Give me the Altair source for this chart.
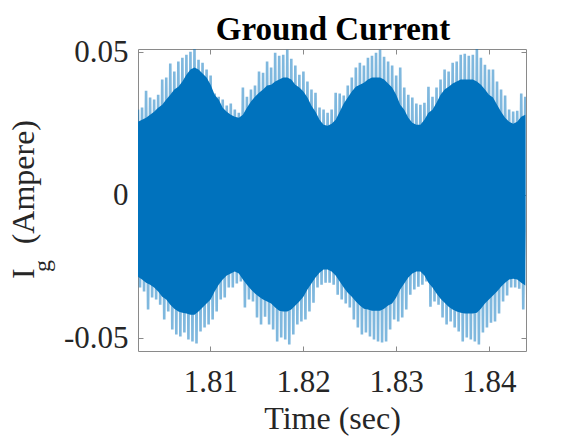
import altair as alt
import pandas as pd

# Sampling of the recorded ground current (s)
t_start = 1.8022
t_step = 0.0004346

# Positive / negative spike tips of the oscillation (A)
peak_hi = [
    0.0300, 0.0307, 0.0366, 0.0342, 0.0335, 0.0352, 0.0405, 0.0412, 0.0461, 0.0433,
    0.0468, 0.0481, 0.0492, 0.0502, 0.0513, 0.0474, 0.0464, 0.0440, 0.0419, 0.0356,
    0.0345, 0.0335, 0.0314, 0.0321, 0.0300, 0.0289, 0.0377, 0.0345, 0.0370, 0.0384,
    0.0433, 0.0429, 0.0468, 0.0447, 0.0499, 0.0488, 0.0492, 0.0509, 0.0478, 0.0454,
    0.0422, 0.0433, 0.0398, 0.0370, 0.0359, 0.0307, 0.0300, 0.0289, 0.0300, 0.0359,
    0.0356, 0.0349, 0.0384, 0.0412, 0.0447, 0.0464, 0.0454, 0.0481, 0.0488, 0.0499,
    0.0509, 0.0485, 0.0468, 0.0454, 0.0419, 0.0447, 0.0377, 0.0352, 0.0342, 0.0321,
    0.0317, 0.0324, 0.0380, 0.0345, 0.0377, 0.0405, 0.0440, 0.0433, 0.0464, 0.0468,
    0.0492, 0.0495, 0.0488, 0.0492, 0.0516, 0.0481, 0.0457, 0.0440, 0.0440, 0.0398,
    0.0370, 0.0349, 0.0300, 0.0293, 0.0296, 0.0356, 0.0345,
]
peak_lo = [
    -0.0322, -0.0336, -0.0399, -0.0357, -0.0364, -0.0382, -0.0434, -0.0406, -0.0469, -0.0486,
    -0.0493, -0.0479, -0.0504, -0.0511, -0.0518, -0.0476, -0.0462, -0.0451, -0.0434, -0.0406,
    -0.0364, -0.0357, -0.0322, -0.0322, -0.0308, -0.0301, -0.0392, -0.0364, -0.0371, -0.0427,
    -0.0451, -0.0424, -0.0451, -0.0469, -0.0511, -0.0497, -0.0504, -0.0521, -0.0486, -0.0451,
    -0.0441, -0.0434, -0.0406, -0.0375, -0.0322, -0.0312, -0.0305, -0.0305, -0.0312, -0.0347,
    -0.0364, -0.0378, -0.0392, -0.0434, -0.0462, -0.0486, -0.0479, -0.0493, -0.0504, -0.0511,
    -0.0514, -0.0511, -0.0469, -0.0434, -0.0441, -0.0427, -0.0399, -0.0347, -0.0329, -0.0319,
    -0.0312, -0.0301, -0.0389, -0.0371, -0.0382, -0.0427, -0.0451, -0.0441, -0.0462, -0.0476,
    -0.0511, -0.0497, -0.0504, -0.0511, -0.0521, -0.0479, -0.0462, -0.0445, -0.0441, -0.0413,
    -0.0371, -0.0350, -0.0322, -0.0322, -0.0326, -0.0399, -0.0357,
]

# Dense body of the waveform, where the cycles overlap (A)
body_hi = [
    0.0258, 0.0265, 0.0272, 0.0282, 0.0293, 0.0307, 0.0317, 0.0335, 0.0352, 0.0370,
    0.0380, 0.0398, 0.0422, 0.0440, 0.0447, 0.0440, 0.0426, 0.0412, 0.0387, 0.0352,
    0.0335, 0.0307, 0.0293, 0.0282, 0.0275, 0.0272, 0.0282, 0.0307, 0.0328, 0.0345,
    0.0359, 0.0370, 0.0384, 0.0387, 0.0398, 0.0405, 0.0412, 0.0412, 0.0405, 0.0387,
    0.0377, 0.0363, 0.0342, 0.0314, 0.0293, 0.0265, 0.0247, 0.0244, 0.0251, 0.0265,
    0.0293, 0.0321, 0.0342, 0.0363, 0.0380, 0.0387, 0.0394, 0.0405, 0.0412, 0.0412,
    0.0412, 0.0405, 0.0391, 0.0377, 0.0352, 0.0317, 0.0300, 0.0272, 0.0254, 0.0247,
    0.0247, 0.0265, 0.0289, 0.0300, 0.0324, 0.0352, 0.0370, 0.0380, 0.0391, 0.0398,
    0.0405, 0.0405, 0.0405, 0.0405, 0.0398, 0.0387, 0.0370, 0.0352, 0.0342, 0.0317,
    0.0293, 0.0272, 0.0258, 0.0251, 0.0258, 0.0275, 0.0282,
]
body_lo = [
    -0.0284, -0.0294, -0.0305, -0.0312, -0.0322, -0.0336, -0.0354, -0.0364, -0.0382, -0.0396,
    -0.0406, -0.0410, -0.0413, -0.0417, -0.0417, -0.0406, -0.0392, -0.0378, -0.0364, -0.0336,
    -0.0312, -0.0294, -0.0280, -0.0273, -0.0266, -0.0273, -0.0294, -0.0312, -0.0329, -0.0343,
    -0.0354, -0.0364, -0.0371, -0.0378, -0.0392, -0.0403, -0.0406, -0.0406, -0.0399, -0.0385,
    -0.0371, -0.0354, -0.0329, -0.0308, -0.0287, -0.0270, -0.0259, -0.0259, -0.0266, -0.0280,
    -0.0301, -0.0322, -0.0340, -0.0354, -0.0371, -0.0385, -0.0396, -0.0399, -0.0403, -0.0403,
    -0.0403, -0.0396, -0.0385, -0.0378, -0.0357, -0.0329, -0.0308, -0.0287, -0.0273, -0.0266,
    -0.0266, -0.0280, -0.0305, -0.0322, -0.0343, -0.0361, -0.0375, -0.0389, -0.0399, -0.0406,
    -0.0410, -0.0413, -0.0413, -0.0413, -0.0410, -0.0396, -0.0378, -0.0364, -0.0350, -0.0336,
    -0.0319, -0.0305, -0.0294, -0.0291, -0.0294, -0.0305, -0.0315,
]

x_ticks = [1.81, 1.82, 1.83, 1.84]
y_ticks = [-0.05, 0, 0.05]

n = len(peak_hi)
times = [t_start + i * t_step for i in range(n)]

body_df = pd.DataFrame({"t": times, "body_hi": body_hi, "body_lo": body_lo})

# Waveform trace: each cycle swings from its positive tip down to its negative tip
trace_t, trace_v = [], []
for i in range(n):
    trace_t += [times[i], times[i] + t_step / 2]
    trace_v += [peak_hi[i], peak_lo[i]]
trace_df = pd.DataFrame({"t": trace_t, "i_g": trace_v})

FONT = "Liberation Serif"
BLUE = "#0072BD"
FRAME = "#8a8a8a"
INK = "#262626"
NB = "\u00a0"

x_scale = alt.Scale(domain=[1.8022, 1.8440], nice=False, zero=False)
y_scale = alt.Scale(domain=[-0.0544, 0.0512], nice=False, zero=False)

# Oscillating trace; carries the top/right tick marks
trace = alt.Chart(trace_df).mark_line(
    color=BLUE, opacity=0.5, strokeWidth=2.6, clip=True
).encode(
    x=alt.X("t:Q", scale=x_scale,
            axis=alt.Axis(orient="top", values=x_ticks, labels=False, title=None)),
    y=alt.Y("i_g:Q", scale=y_scale,
            axis=alt.Axis(orient="right", values=y_ticks, labels=False, title=None)),
    order="t:Q",
)

# Solid body of the oscillation; carries the labelled bottom/left axes
body = alt.Chart(body_df).mark_area(color=BLUE, opacity=1, clip=True).encode(
    x=alt.X("t:Q", scale=x_scale,
            axis=alt.Axis(orient="bottom", values=x_ticks, format=".2f",
                          labelPadding=16, title="Time (sec)",
                          titleBaseline="alphabetic", titleY=82)),
    y=alt.Y("body_lo:Q", scale=y_scale,
            axis=alt.Axis(orient="left", values=y_ticks, labelPadding=10,
                          labelExpr="datum.value == 0 ? '0' : (datum.value < 0 ? '-' : '') + format(abs(datum.value), '.2f')",
                          title="I" + NB * 3 + "(Ampere)", titleAngle=270, titleAlign="center",
                          titleBaseline="alphabetic", titleX=-110, titleY=150)),
    y2="body_hi:Q",
)

# Subscript of the current symbol I_g
sub_g = alt.Chart(pd.DataFrame({"s": ["g"]})).mark_text(
    font=FONT, fontSize=24, angle=270, align="center", baseline="alphabetic", color=INK
).encode(x=alt.value(-88), y=alt.value(217), text="s:N")

# Chart heading above the plot frame
heading = alt.Chart(pd.DataFrame({"s": ["Ground Current"]})).mark_text(
    font=FONT, fontSize=33, fontWeight="bold", align="center", baseline="alphabetic",
    color="black"
).encode(x=alt.value(195), y=alt.value(-9), text="s:N")

chart = alt.layer(trace, body, sub_g, heading).resolve_axis(
    x="independent", y="independent"
).properties(
    width=388,
    height=302,
    background="white",
    autosize=alt.AutoSizeParams(type="none"),
    padding={"left": 138, "top": 49, "right": 51, "bottom": 87},
).configure_view(
    stroke=FRAME, strokeWidth=1
).configure_axis(
    labelFont=FONT, labelFontSize=31, labelColor=INK, labelFlush=False,
    titleFont=FONT, titleFontSize=32, titleFontWeight="normal", titleColor=INK,
    domain=False, grid=False, ticks=True, tickColor=FRAME, tickSize=5, offset=-5,
)

chart.save("out.html", embed_options={"renderer": "svg", "actions": False})
